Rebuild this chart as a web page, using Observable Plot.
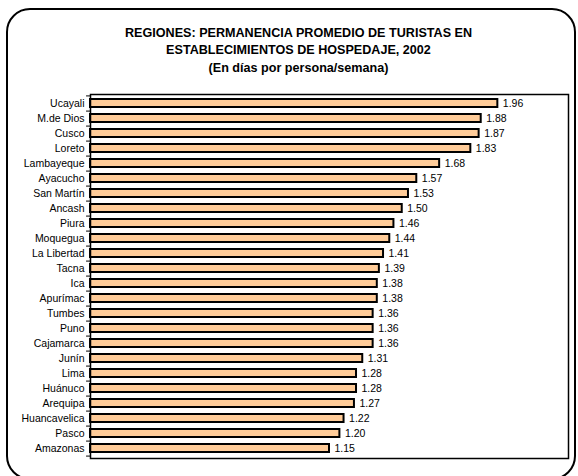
<!DOCTYPE html>
<html>
<head>
<meta charset="utf-8">
<script src="https://cdn.jsdelivr.net/npm/d3@7"></script>
<script src="https://cdn.jsdelivr.net/npm/@observablehq/plot@0.6"></script>
<style>
  html, body { margin: 0; padding: 0; background: #fff; }
  #wrap { position: relative; width: 578px; height: 476px; overflow: hidden; background: #fff; }
  #border { position: absolute; left: 6px; top: 8px; width: 566px; height: 468px; border: 2.5px solid #000; border-radius: 24px; }
  #chart { position: absolute; left: 0; top: 0; }
</style>
</head>
<body>
<div id="wrap"><div id="border"></div><div id="chart"></div></div>
<script>
const regions = ["Ucayali","M.de Dios","Cusco","Loreto","Lambayeque","Ayacucho","San Martín","Ancash","Piura","Moquegua","La Libertad","Tacna","Ica","Apurímac","Tumbes","Puno","Cajamarca","Junín","Lima","Huánuco","Arequipa","Huancavelica","Pasco","Amazonas"];
const values = [1.96,1.88,1.87,1.83,1.68,1.57,1.53,1.50,1.46,1.44,1.41,1.39,1.38,1.38,1.36,1.36,1.36,1.31,1.28,1.28,1.27,1.22,1.20,1.15];
const titleLines = ["REGIONES: PERMANENCIA PROMEDIO DE TURISTAS EN", "ESTABLECIMIENTOS DE HOSPEDAJE, 2002", "(En días por persona/semana)"];

const data = regions.map((r, i) => ({region: r, value: values[i]}));

const W = 578, H = 476, mL = 90, mR = 10, mT = 94, mB = 18;
const step = (H - mT - mB) / regions.length;
const font = "'Liberation Sans', Arial, sans-serif";
const titleOffsets = [-58, -41, -23];

const chart = Plot.plot({
  width: W,
  height: H,
  marginLeft: mL,
  marginRight: mR,
  marginTop: mT,
  marginBottom: mB,
  style: {fontFamily: font, background: "transparent", overflow: "visible"},
  x: {domain: [0, 2.3], axis: null},
  y: {domain: regions, paddingInner: 0.44, paddingOuter: 0.22, axis: null},
  marks: [
    Plot.barX(data, {x: "value", y: "region", fill: "#FFCC99", stroke: "#000", strokeWidth: 2}),
    Plot.text(data, {x: "value", y: "region", text: d => d.value.toFixed(2), textAnchor: "start", dx: 5, fontSize: 10.5, fill: "#000"}),
    Plot.text(data, {x: 0, y: "region", text: "region", textAnchor: "end", dx: -6, fontSize: 10.5, fill: "#000"}),
    Plot.ruleY(data, {y: "region", x1: -0.019, x2: 0, dy: step / 2, stroke: "#000", strokeWidth: 1}),
    Plot.ruleY(data.slice(0, 1), {y: "region", x1: -0.019, x2: 0, dy: -step / 2, stroke: "#000", strokeWidth: 1}),
    Plot.frame({stroke: "#000", strokeWidth: 1.5}),
    ...titleLines.map((t, i) => Plot.text([t], {
      text: d => d, frameAnchor: "top", lineAnchor: "bottom",
      dx: -31, dy: titleOffsets[i], fontSize: 12.6, fontWeight: "bold", fill: "#000"
    }))
  ]
});
document.getElementById("chart").appendChild(chart);
</script>
</body>
</html>
